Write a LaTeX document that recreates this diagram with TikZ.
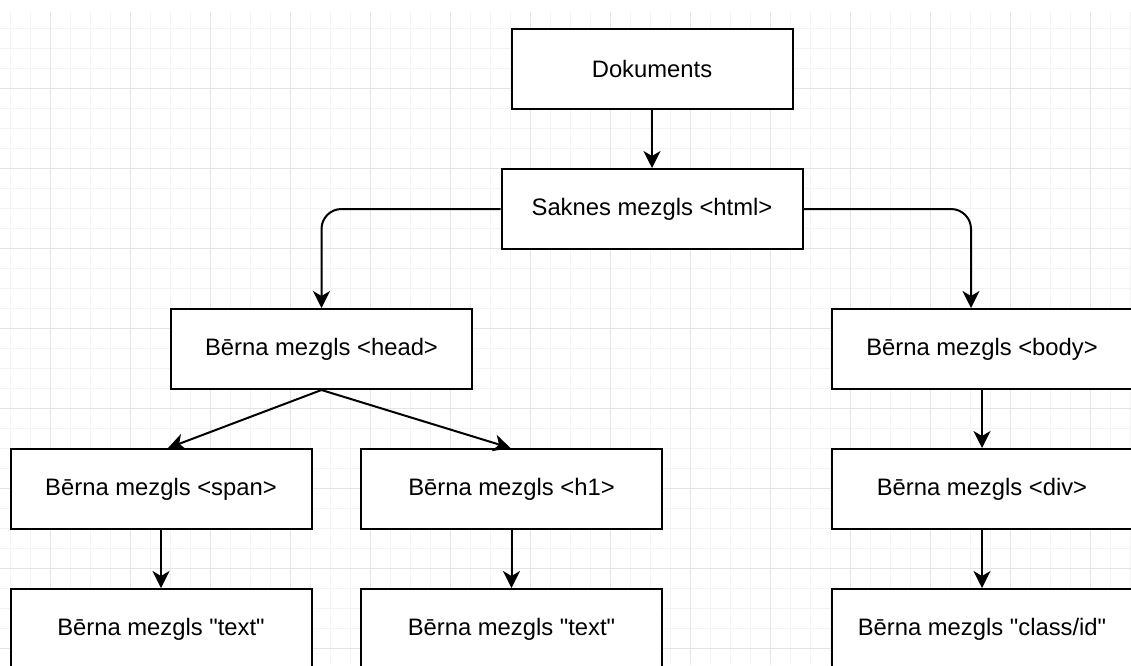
\documentclass[tikz,border=0pt]{standalone}
\usepackage{fontspec}
\setmainfont{Liberation Sans}[Ligatures=TeXOff]
\usetikzlibrary{arrows.meta}
\definecolor{gridminor}{HTML}{F3F3F3}
\definecolor{gridmajor}{HTML}{E4E4E4}
\tikzset{
  box/.style={draw=black, line width=2pt, fill=white, minimum height=80pt, minimum width=301pt,
    inner sep=0pt, font=\fontsize{23.8}{28}\selectfont},
  conn/.style={draw=black, line width=2pt, -{Stealth[length=17pt,width=17pt,inset=5pt]}},
}
\begin{document}
\begin{tikzpicture}[x=1pt,y=-1pt]
\useasboundingbox (0,0) rectangle (1131,665);
\clip (0,0) rectangle (1131,665);
\fill[white] (0,0) rectangle (1131,665);
% grid
\foreach \gx in {10,30,...,1130} \draw[gridminor,line width=1pt] (\gx,12) -- (\gx,665);
\foreach \gy in {28,48,...,660} \draw[gridminor,line width=1pt] (0,\gy) -- (1131,\gy);
\foreach \gx in {50,130,...,1130} \draw[gridmajor,line width=1pt] (\gx,12) -- (\gx,665);
\foreach \gy in {88,168,...,660} \draw[gridmajor,line width=1pt] (0,\gy) -- (1131,\gy);
% nodes
\node[box, minimum width=281pt] (doc) at (652,69) {Dokuments};
\node[box] (root) at (652,209) {Saknes mezgls <html>};
\node[box] (head) at (321.5,349) {Bērna mezgls <head>};
\node[box, minimum width=300pt] (body) at (982,349) {Bērna mezgls <body>};
\node[box] (span) at (161,489) {Bērna mezgls <span>};
\node[box] (h1) at (511.5,489) {Bērna mezgls <h1>};
\node[box, minimum width=300pt] (div) at (982,489) {Bērna mezgls <div>};
\node[box] (t1) at (161,629) {Bērna mezgls "text"};
\node[box] (t2) at (511.5,629) {Bērna mezgls "text"};
\node[box, minimum width=300pt] (t3) at (982,629) {Bērna mezgls "class/id"};
% connectors
\draw[conn] (doc.south) -- (root.north);
\draw[conn, rounded corners=20pt] (root.west) -| (head.north);
\draw[conn, rounded corners=20pt] (root.east) -| ([xshift=-11pt]body.north);
\draw[conn] (head.south) -- ([xshift=7pt]span.north);
\draw[conn] (head.south) -- ([xshift=-1pt]h1.north);
\draw[conn] (body.south) -- (div.north);
\draw[conn] (span.south) -- (t1.north);
\draw[conn] (h1.south) -- (t2.north);
\draw[conn] (div.south) -- (t3.north);
\end{tikzpicture}
\end{document}
